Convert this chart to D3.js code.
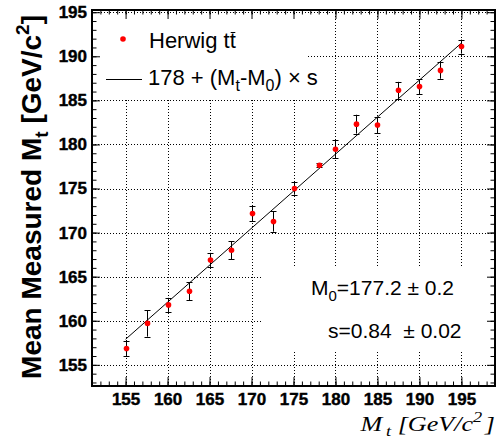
<!DOCTYPE html>
<html>
<head>
<meta charset="utf-8">
<script src="https://cdn.jsdelivr.net/npm/d3@7"></script>
<style>
  body { margin: 0; background: #fff; }
  svg { display: block; }
</style>
</head>
<body>
<svg id="chart"></svg>
<script>
const width = 498;
const height = 442;

// generated top mass points (GeV/c^2)
const inputMass = [155, 157.5, 160, 162.5, 165, 167.5, 170, 172.5, 175, 178, 180, 182.5, 185, 187.5, 190, 192.5, 195];
const measuredMass = [156.86, 159.7, 161.8, 163.35, 166.9, 168.0, 172.17, 171.26, 175.0, 177.64, 179.46, 182.3, 182.2, 186.15, 186.56, 188.4, 191.1];
const measuredErr = [0.85, 1.5, 0.8, 1.05, 0.8, 1.0, 0.85, 1.15, 0.7, 0.2, 1.05, 1.07, 0.95, 0.95, 0.85, 0.95, 0.8];

// fitted line end points
const fitX = [155, 195];
const fitY = [157.9, 191.5];

const xTicks = [155, 160, 165, 170, 175, 180, 185, 190, 195];
const yTicks = [155, 160, 165, 170, 175, 180, 185, 190, 195];

const fitText = ["M", "0", "=177.2 \u00b1 0.2"];
const slopeText = "s=0.84  \u00b1 0.02";

const frame = { left: 92, right: 495, top: 10, bottom: 386 };
const sans = "'Liberation Sans', Arial, sans-serif";

const svg = d3.select("#chart")
  .attr("width", width)
  .attr("height", height);

const x = d3.scaleLinear().domain([151, 199]).range([frame.left, frame.right]);
const y = d3.scaleLinear().domain([152.6, 195.25]).range([frame.bottom, frame.top]);

const minorX = d3.range(152, 199, 1);
const minorY = d3.range(153, 196, 1);

//grid
const grid = svg.append("g")
  .attr("stroke", "#000")
  .attr("stroke-width", 1)
  .attr("stroke-dasharray", "1,2");
grid.selectAll(".vg")
  .data(xTicks)
  .enter()
  .append("line")
  .attr("x1", d => Math.round(x(d)) + 0.5)
  .attr("x2", d => Math.round(x(d)) + 0.5)
  .attr("y1", frame.top)
  .attr("y2", frame.bottom);
grid.selectAll(".hg")
  .data(yTicks)
  .enter()
  .append("line")
  .attr("x1", frame.left)
  .attr("x2", frame.right)
  .attr("y1", d => Math.round(y(d)) + 0.5)
  .attr("y2", d => Math.round(y(d)) + 0.5);

// white boxes behind legend and fit result
svg.append("rect")
  .attr("x", frame.left + 1).attr("y", 14)
  .attr("width", 215).attr("height", 85)
  .attr("fill", "#fff");
svg.append("rect")
  .attr("x", 262).attr("y", 268)
  .attr("width", 227).attr("height", 84)
  .attr("fill", "#fff");

//axes
function addAxis(axis, transform) {
  const g = svg.append("g")
    .attr("transform", transform)
    .call(axis);
  g.select(".domain").remove();
  g.selectAll(".tick line").attr("stroke", "#000");
  g.selectAll("text")
    .attr("fill", "#000")
    .attr("stroke", "#000")
    .attr("stroke-width", 0.4)
    .style("font-family", sans)
    .style("font-size", "17px")
    .style("font-weight", "bold");
  return g;
}

addAxis(d3.axisBottom(x).tickValues(xTicks).tickSizeInner(-9).tickSizeOuter(0).tickPadding(7), `translate(0,${frame.bottom})`);
addAxis(d3.axisBottom(x).tickValues(minorX).tickSizeInner(-4.5).tickSizeOuter(0).tickFormat(""), `translate(0,${frame.bottom})`);
addAxis(d3.axisTop(x).tickValues(xTicks).tickSizeInner(-9).tickSizeOuter(0).tickFormat(""), `translate(0,${frame.top})`);
addAxis(d3.axisTop(x).tickValues(minorX).tickSizeInner(-4.5).tickSizeOuter(0).tickFormat(""), `translate(0,${frame.top})`);

addAxis(d3.axisLeft(y).tickValues(yTicks).tickSizeInner(-8).tickSizeOuter(0).tickPadding(5), `translate(${frame.left},0)`);
addAxis(d3.axisLeft(y).tickValues(minorY).tickSizeInner(-4.5).tickSizeOuter(0).tickFormat(""), `translate(${frame.left},0)`);
addAxis(d3.axisRight(y).tickValues(yTicks).tickSizeInner(-8).tickSizeOuter(0).tickFormat(""), `translate(${frame.right},0)`);
addAxis(d3.axisRight(y).tickValues(minorY).tickSizeInner(-4.5).tickSizeOuter(0).tickFormat(""), `translate(${frame.right},0)`);

// frame
svg.append("rect")
  .attr("x", frame.left).attr("y", frame.top)
  .attr("width", frame.right - frame.left)
  .attr("height", frame.bottom - frame.top)
  .attr("fill", "none")
  .attr("stroke", "#000")
  .attr("stroke-width", 2);

// fit line
svg.append("line")
  .attr("x1", x(fitX[0])).attr("y1", y(fitY[0]))
  .attr("x2", x(fitX[1])).attr("y2", y(fitY[1]))
  .attr("stroke", "#000")
  .attr("stroke-width", 1);

// error bars
const points = inputMass.map((m, i) => ({ m: m, v: measuredMass[i], e: measuredErr[i] }));
const bars = svg.append("g").attr("stroke", "#000").attr("stroke-width", 1);
points.forEach(d => {
  const cx = Math.round(x(d.m)) + 0.5;
  bars.append("line").attr("x1", cx).attr("x2", cx).attr("y1", y(d.v - d.e)).attr("y2", y(d.v + d.e));
  [d.v - d.e, d.v + d.e].forEach(v => {
    bars.append("line").attr("x1", cx - 3).attr("x2", cx + 3).attr("y1", Math.round(y(v)) + 0.5).attr("y2", Math.round(y(v)) + 0.5);
  });
});

svg.append("g")
  .selectAll("circle")
  .data(points)
  .enter()
  .append("circle")
  .attr("cx", d => Math.round(x(d.m)) + 0.5)
  .attr("cy", d => y(d.v))
  .attr("r", 2.8)
  .attr("fill", "#ff0000");

// legend
svg.append("circle").attr("cx", 123).attr("cy", 39).attr("r", 2.8).attr("fill", "#ff0000");
const herwig = svg.append("text")
  .attr("x", 149).attr("y", 48)
  .style("font-family", sans).style("font-size", "22px")
  .text("Herwig tt");
const hLen = herwig.node().getComputedTextLength();
const tLen = herwig.node().getSubStringLength(8, 1);
svg.append("line")
  .attr("x1", 149 + hLen - tLen + 1).attr("x2", 149 + hLen - 0.5)
  .attr("y1", 32.5).attr("y2", 32.5)
  .attr("stroke", "#000").attr("stroke-width", 1);

svg.append("line")
  .attr("x1", 106).attr("x2", 142).attr("y1", 79.5).attr("y2", 79.5)
  .attr("stroke", "#000").attr("stroke-width", 1);
const lineLab = svg.append("text")
  .attr("x", 148).attr("y", 85)
  .style("font-family", sans).style("font-size", "22px");
lineLab.append("tspan").text("178 + (M");
lineLab.append("tspan").attr("dy", 6).style("font-size", "16px").text("t");
lineLab.append("tspan").attr("dy", -6).text("-M");
lineLab.append("tspan").attr("dy", 6).style("font-size", "16px").text("0");
lineLab.append("tspan").attr("dy", -6).text(") \u00d7 s");

// fit result
const m0 = svg.append("text")
  .attr("x", 311).attr("y", 295)
  .style("font-family", sans).style("font-size", "21px");
m0.append("tspan").text(fitText[0]);
m0.append("tspan").attr("dy", 6).style("font-size", "15px").text(fitText[1]);
m0.append("tspan").attr("dy", -6).text(fitText[2]);

svg.append("text")
  .attr("x", 328).attr("y", 338)
  .style("font-family", sans).style("font-size", "21px")
  .style("white-space", "pre")
  .text(slopeText);

// y title
const yt = svg.append("text")
  .attr("transform", "translate(41,15) rotate(-90)")
  .attr("text-anchor", "end")
  .style("font-family", sans).style("font-size", "28px").style("font-weight", "bold");
yt.append("tspan").text("Mean Measured M");
yt.append("tspan").attr("dy", 7).style("font-size", "19px").text("t");
yt.append("tspan").attr("dy", -7).text(" [GeV/c");
yt.append("tspan").attr("dy", -12).style("font-size", "19px").text("2");
yt.append("tspan").attr("dy", 12).text("]");

// x title
const xt = svg.append("text")
  .attr("x", 0).attr("y", 0)
  .attr("text-anchor", "end")
  .style("font-family", "'Liberation Serif', 'Times New Roman', serif")
  .style("font-size", "20px").style("font-style", "italic");
xt.append("tspan").text("M");
xt.append("tspan").attr("dy", 5).attr("dx", 3).style("font-size", "14px").text("t");
xt.append("tspan").attr("dy", -5).text(" [GeV/c");
xt.append("tspan").attr("dy", -9).style("font-size", "14px").text("2");
xt.append("tspan").attr("dy", 9).attr("dx", 2).text("]");
const xtw = xt.node().getBBox().width;
xt.attr("transform", `translate(495,431) scale(${136 / xtw},1)`);
</script>
</body>
</html>
